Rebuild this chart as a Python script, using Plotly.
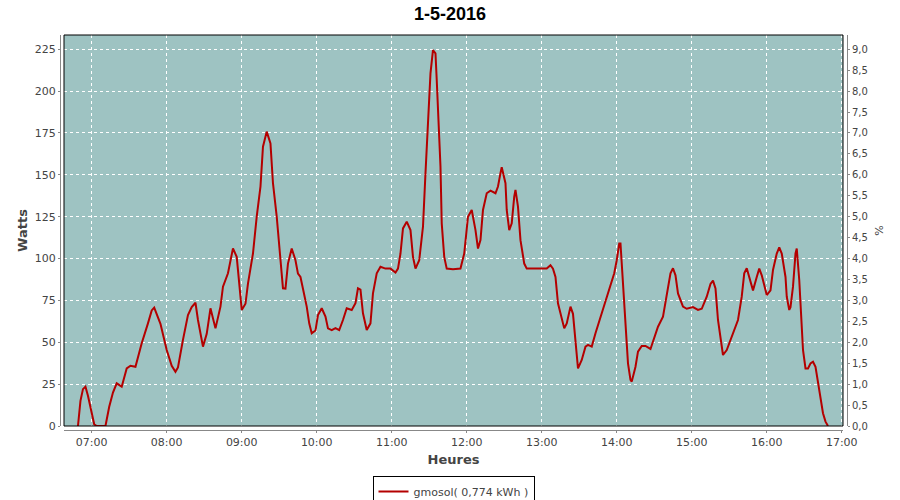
import pandas as pd
import plotly.graph_objects as go

# ---- data -------------------------------------------------------------
times = [
    "06:49", "06:51", "06:53", "06:55", "06:57", "07:00", "07:02", "07:04", "07:11", "07:14",
    "07:17", "07:20", "07:24", "07:28", "07:31", "07:35", "07:40", "07:45", "07:48", "07:50",
    "07:52", "07:55", "08:00", "08:04", "08:07", "08:09", "08:13", "08:17", "08:20", "08:23",
    "08:25", "08:29", "08:32", "08:35", "08:39", "08:43", "08:45", "08:49", "08:53", "08:56",
    "09:00", "09:03", "09:05", "09:09", "09:12", "09:15", "09:17", "09:20", "09:23", "09:25",
    "09:28", "09:31", "09:33", "09:35", "09:37", "09:40", "09:43", "09:45", "09:47", "09:49",
    "09:52", "09:54", "09:56", "09:59", "10:01", "10:04", "10:07", "10:09", "10:12", "10:15",
    "10:18", "10:21", "10:24", "10:28", "10:31", "10:33", "10:35", "10:37", "10:40", "10:43",
    "10:45", "10:48", "10:51", "10:55", "10:59", "11:03", "11:05", "11:07", "11:09", "11:12",
    "11:15", "11:17", "11:19", "11:22", "11:25", "11:27", "11:29", "11:31", "11:33", "11:35",
    "11:36", "11:37", "11:39", "11:40", "11:42", "11:44", "11:49", "11:55", "11:58", "12:01",
    "12:04", "12:07", "12:09", "12:11", "12:13", "12:16", "12:19", "12:23", "12:25", "12:27",
    "12:28", "12:31", "12:32", "12:34", "12:36", "12:38", "12:39", "12:41", "12:43", "12:46",
    "12:48", "13:04", "13:07", "13:09", "13:11", "13:13", "13:16", "13:18", "13:20", "13:23",
    "13:25", "13:27", "13:29", "13:32", "13:35", "13:37", "13:40", "13:43", "13:47", "13:51",
    "13:55", "13:58", "14:00", "14:02", "14:03", "14:05", "14:07", "14:09", "14:11", "14:12",
    "14:15", "14:17", "14:20", "14:23", "14:27", "14:29", "14:33", "14:37", "14:40", "14:43",
    "14:45", "14:47", "14:49", "14:53", "14:56", "15:01", "15:05", "15:08", "15:12", "15:15",
    "15:17", "15:19", "15:21", "15:24", "15:25", "15:28", "15:31", "15:35", "15:37", "15:40",
    "15:42", "15:44", "15:47", "15:49", "15:52", "15:54", "15:56", "15:58", "16:00", "16:03",
    "16:05", "16:08", "16:10", "16:12", "16:15", "16:16", "16:18", "16:19", "16:21", "16:23",
    "16:24", "16:26", "16:28", "16:29", "16:31", "16:33", "16:35", "16:37", "16:39", "16:41",
    "16:43", "16:45", "16:47", "16:49",
]
watts = [
    0, 15, 22, 23.5, 18, 7.6, 1, 0, 0, 11.5,
    20, 25.5, 23.5, 34.4, 36, 35.4, 49.4, 61.3, 69, 70.7,
    67, 61, 45.4, 36, 32.4, 35, 51.4, 66.3, 71, 73.6,
    63.3, 47.4, 55, 70.3, 58.3, 71.3, 83.2, 91.2, 106.1, 101,
    69.3, 73, 85, 103, 125, 142.9, 166.8, 175.8, 168.8, 145,
    125, 99, 82.2, 82, 97, 106, 99, 91, 89, 82,
    71.3, 61.3, 55.4, 57, 66.3, 70.3, 65.3, 58.3, 57.3, 58.5,
    57.3, 63.3, 70.3, 69.3, 73.3, 82.2, 81.4, 67.3, 57.3, 61.3,
    79.2, 91.2, 95.1, 94, 94, 91.6, 94, 103, 118, 122,
    117, 101, 94, 99, 119, 151, 182.7, 210.6, 224.5, 222.5,
    206.6, 186.7, 154.9, 121, 101, 94, 93.6, 94, 103, 125,
    129, 117, 106, 111, 129, 139, 140.5, 139, 143, 151,
    154.5, 145, 129, 117, 121, 137, 141, 131, 111, 97,
    94, 94, 96, 94, 89, 73.3, 63.3, 58.3, 61.3, 71.3,
    67, 51.4, 34.4, 39.4, 47.4, 48.4, 47.4, 55.4, 65.3, 75.3,
    84.2, 91.2, 99, 109, 109, 87.2, 61.3, 37.4, 27.5, 26.5,
    35.4, 44.4, 47.8, 47.8, 46, 50.3, 59.3, 65.3, 77.2, 91.2,
    94.2, 90, 79.2, 71.3, 70, 71, 69.3, 70, 77.2, 84.8,
    86.8, 82.2, 63.3, 45.4, 42.4, 45.4, 51.4, 59.3, 63.3, 77.2,
    91.2, 94.2, 85.2, 81, 89, 94, 90, 83.2, 78.2, 81,
    93.2, 103, 106.7, 103, 89, 77.2, 69.3, 71, 83.2, 103,
    106, 87.2, 61.3, 45.4, 34.4, 34.4, 37.4, 38.4, 35.4, 25.5,
    15.5, 7.6, 2.6, 0,
]
day = "2016-05-01"
series_name = "gmosol( 0,774 kWh )"
chart_title = "1-5-2016"
x_title = "Heures"
y_title = "Watts"
y2_title = "%"
x_range = ["06:37:50", "17:01:00"]
y_range = [0, 233.5]
y2_range = [0, 9.34]

x = pd.to_datetime([f"{day} {t}" for t in times])

# ---- figure -----------------------------------------------------------
W, H = 900, 500
L, R, T, B = 60, 53, 35, 70
pw = W - L - R
ph = H - T - B
off = 4  # axis offset in px

tick_font = dict(family="DejaVu Sans", size=11, color="#444444")
title_font = dict(family="DejaVu Sans", size=13, color="#444444")

fig = go.Figure()
fig.add_trace(go.Scatter(
    x=x, y=watts, mode="lines", name=series_name,
    line=dict(color="#B40000", width=2),
    showlegend=True,
))
# empty trace so the right-hand axis is drawn
fig.add_trace(go.Scatter(x=[x[0]], y=[None], yaxis="y2", mode="lines",
                         showlegend=False, hoverinfo="skip"))

fig.add_shape(type="rect", xref="x domain", yref="y domain",
              x0=0, x1=1, y0=0, y1=1,
              line=dict(color="black", width=1), fillcolor="rgba(0,0,0,0)")

fig.update_layout(
    width=W, height=H,
    margin=dict(l=L, r=R, t=T, b=B, pad=0, autoexpand=False),
    paper_bgcolor="white",
    plot_bgcolor="#9EC3C2",
    separators=", ",
    title=dict(text=chart_title, x=0.5, xanchor="center", y=0.972, yanchor="middle",
               font=dict(family="Liberation Sans", size=18, color="black", weight="bold")),
    xaxis=dict(
        type="date", automargin=False,
        domain=[off / pw, 1 - off / pw],
        anchor="free", position=0,
        range=[f"{day} {x_range[0]}", f"{day} {x_range[1]}"],
        tick0=f"{day} 07:00", dtick=3600000, tickformat="%H:%M",
        showgrid=True, gridcolor="white", gridwidth=1, griddash="dot",
        showline=True, linecolor="#888888", linewidth=1,
        ticks="outside", ticklen=2, tickcolor="#888888",
        tickfont=tick_font,
        title=dict(text=f"<b>{x_title}</b>", font=title_font, standoff=6),
        zeroline=False,
    ),
    yaxis=dict(
        automargin=False,
        domain=[off / ph, 1],
        anchor="free", position=0,
        range=y_range, dtick=25, tick0=0,
        showgrid=True, gridcolor="white", gridwidth=1, griddash="dot",
        showline=True, linecolor="#888888", linewidth=1,
        ticks="outside", ticklen=2, tickcolor="#888888",
        tickfont=tick_font,
        title=dict(text=f"<b>{y_title}</b>", font=title_font, standoff=3),
        zeroline=False,
    ),
    yaxis2=dict(
        automargin=False,
        overlaying="y", side="right",
        anchor="free", position=1,
        range=y2_range, dtick=0.5, tick0=0, tickformat=".1f",
        showgrid=False,
        showline=True, linecolor="#888888", linewidth=1,
        ticks="outside", ticklen=2, tickcolor="#888888",
        tickfont=dict(family="DejaVu Sans", size=10, color="#444444"),
        title=dict(text=y2_title, font=dict(family="DejaVu Sans", size=11, color="#444444"),
                   standoff=8),
        zeroline=False,
    ),
    legend=dict(
        orientation="h", x=0.5, xanchor="center",
        yref="container", y=1 - 476 / H, yanchor="top",
        bordercolor="black", borderwidth=1, bgcolor="white",
        font=dict(family="DejaVu Sans", size=11, color="#444444"),
        itemwidth=30, tracegroupgap=0,
    ),
    showlegend=True,
)

fig.write_html("out.html", config={"displayModeBar": False},
               post_script="document.body.style.margin='0';document.body.style.overflow='hidden';")
